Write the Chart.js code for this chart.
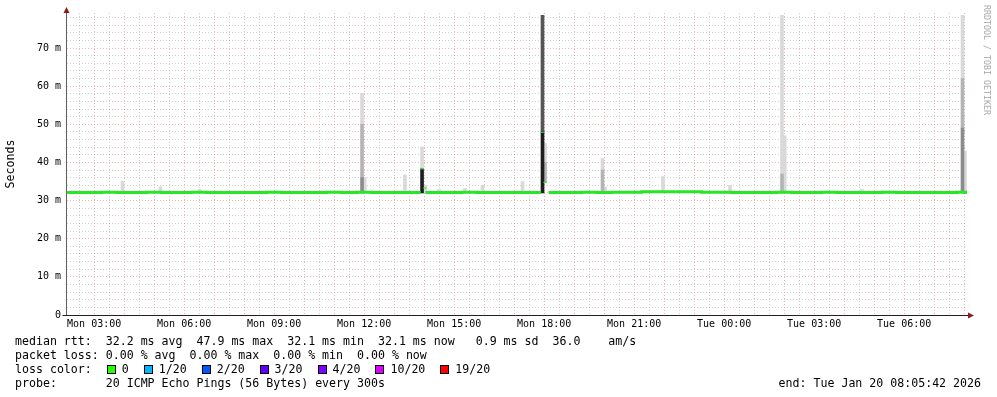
<!DOCTYPE html>
<html>
<head>
<meta charset="utf-8">
<script src="https://cdn.jsdelivr.net/npm/chart.js@4.4.1/dist/chart.umd.min.js"></script>
<style>
  html, body { margin: 0; padding: 0; background: #fff; }
  #wrap { position: relative; width: 997px; height: 397px; overflow: hidden; }
  #chart { position: absolute; left: 0; top: 0; }
  .txt { position: absolute; font-family: "DejaVu Sans Mono", monospace; font-size: 11.6px; line-height: 14px; white-space: pre; color: #000; }
  .sw { display: inline-block; box-sizing: border-box; width: 9px; height: 9px; border: 1px solid #000; vertical-align: -1px; margin: 0 6px 0 15px; }
  #mark { position: absolute; left: 992px; top: 5px; font-family: "DejaVu Sans Mono", monospace; font-size: 8.3px; line-height: 10px; color: #a8a8a8; white-space: pre; transform: rotate(90deg); transform-origin: left top; }
</style>
</head>
<body>
<div id="wrap">
  <canvas id="chart" width="997" height="397"></canvas>
  <div id="mark">RRDTOOL / TOBI OETIKER</div>
  <div class="txt" style="left:15px; top:334px;">median rtt:  32.2 ms avg  47.9 ms max  32.1 ms min  32.1 ms now   0.9 ms sd  36.0    am/s</div>
  <div class="txt" style="left:15px; top:348px;">packet loss: 0.00 % avg  0.00 % max  0.00 % min  0.00 % now</div>
  <div class="txt" id="losses" style="left:15px; top:362px;">loss color:</div>
  <div class="txt" style="left:15px; top:376px;">probe:       20 ICMP Echo Pings (56 Bytes) every 300s</div>
  <div class="txt" style="right:16px; top:376px;">end: Tue Jan 20 08:05:42 2026</div>
</div>
<script>
// time axis in hours since Mon 00:00
const xAxisStart = 2.095;   // Mon 02:05:42
const xAxisEnd = 32.095;    // Tue 08:05:42
const yAxisMax = 79.2;

const xTickHours = [3, 6, 9, 12, 15, 18, 21, 24, 27, 30];
const xTickLabels = ['Mon 03:00', 'Mon 06:00', 'Mon 09:00', 'Mon 12:00', 'Mon 15:00',
  'Mon 18:00', 'Mon 21:00', 'Tue 00:00', 'Tue 03:00', 'Tue 06:00'];
const yTickValues = [0, 10, 20, 30, 40, 50, 60, 70];
const yTickLabels = ['0', '10 m', '20 m', '30 m', '40 m', '50 m', '60 m', '70 m'];

// median rtt (ms), null = line broken by a spike step
const medianTimes = [2.1, 2.5, 3, 3.5, 4, 4.5, 5, 5.5, 6, 6.5, 7, 7.5, 8, 8.5, 9, 9.5, 10, 10.5,
  11, 11.5, 12, 12.5, 13, 13.5, 13.88, 13.93, 14.04, 14.5, 15, 15.5, 16, 16.5, 17, 17.5,
  17.9, 17.945, 18.15, 18.5, 19, 19.5, 20, 20.5, 21, 21.5, 22, 22.5, 23, 23.5, 24,
  24.5, 25, 25.5, 26, 26.5, 27, 27.5, 28, 28.5, 29, 29.5, 30, 30.5, 31, 31.5, 32, 32.1];
const medianRtt = [32.1, 32.1, 32.1, 32.2, 32.1, 32.1, 32.2, 32.1, 32.1, 32.2, 32.1, 32.1, 32.1, 32.1, 32.2, 32.1, 32.1, 32.1,
  32.2, 32.1, 32.2, 32.1, 32.1, 32.1, 32.1, null, 32.1, 32.1, 32.1, 32.2, 32.1, 32.1, 32.1, 32.1,
  32.1, null, 32.1, 32.1, 32.1, 32.2, 32.1, 32.2, 32.2, 32.3, 32.3, 32.3, 32.3, 32.2, 32.2,
  32.1, 32.1, 32.1, 32.2, 32.1, 32.1, 32.2, 32.1, 32.1, 32.1, 32.2, 32.1, 32.1, 32.1, 32.1, 32.2, 32.1];
// median during the spike steps: [hour, ms]
const medianSpikes = [[13.93, 38.3], [14.02, 33.3], [17.945, 47.9], [18.03, 34.8]];

// smoke: [hour, low ms, high ms]
const smokeLight = [
  [3.945, 32, 35.1], [5.21, 32, 33.6], [6.51, 32, 33.0], [11.93, 50, 58.1], [12.02, 32, 36],
  [13.36, 32, 36.7], [13.93, 38.3, 44.1], [14.03, 32, 34], [14.495, 32, 33], [15.36, 32, 33.2],
  [15.945, 32, 34], [17.28, 32, 35], [18.03, 40, 45], [19.945, 38, 41], [20.03, 32, 33.6],
  [21.96, 32, 36.3], [24.195, 32, 34], [25.928, 37, 78.6], [26.02, 32, 47], [28.595, 32, 33],
  [31.945, 62, 78.6], [32.03, 32, 43]
];
const smokeMid = [
  [11.93, 36, 50], [18.03, 34.8, 40], [19.945, 32, 38], [25.928, 32, 37], [31.945, 49, 62]
];
const smokeDark = [
  [11.93, 32, 36], [31.945, 32, 49]
];
const smokeDarker = [
  [17.945, 48, 78.6]
];
const smokeBlack = [
  [13.93, 32, 38.3], [17.945, 32, 48]
];

const lossLabels = ['0', '1/20', '2/20', '3/20', '4/20', '10/20', '19/20'];
const lossColors = ['#26ff00', '#00b8ff', '#0059ff', '#5e00ff', '#7e00ff', '#dd00ff', '#ff0000'];

const gridMajor = 'rgba(220,110,110,0.5)';
const gridMinor = 'rgba(140,140,140,0.42)';
const medianColor = '#26e626';

const losses = document.getElementById('losses');
lossLabels.forEach((lab, i) => {
  const box = document.createElement('span');
  box.className = 'sw';
  box.style.background = lossColors[i];
  losses.appendChild(box);
  losses.appendChild(document.createTextNode(lab));
});

const halfHours = [];
for (let h = 2.5; h <= 32; h += 0.5) halfHours.push(h);
const twoMs = [];
for (let v = 0; v <= 78; v += 2) twoMs.push(v);

const smokeSet = (rows, color, order) => ({
  type: 'bar',
  data: rows.map(r => ({ x: r[0], y: [r[1], r[2]] })),
  backgroundColor: color,
  borderWidth: 0,
  barThickness: 3,
  grouped: false,
  order: order
});

const axisPlugin = {
  id: 'rrdAxes',
  afterDraw(chart) {
    const { ctx, chartArea: a } = chart;
    const x0 = Math.round(a.left) - 0.5;
    const y0 = Math.round(a.bottom) + 0.5;
    ctx.save();
    ctx.lineWidth = 1;
    ctx.strokeStyle = '#606060';
    ctx.beginPath();
    ctx.moveTo(x0, y0);
    ctx.lineTo(x0, a.top - 3);
    ctx.stroke();
    ctx.strokeStyle = '#202020';
    ctx.beginPath();
    ctx.moveTo(x0 - 4, y0);
    ctx.lineTo(a.right + 2, y0);
    ctx.stroke();
    ctx.fillStyle = '#8b1c1c';
    ctx.beginPath();
    ctx.moveTo(x0 - 3, a.top);
    ctx.lineTo(x0 + 3, a.top);
    ctx.lineTo(x0, a.top - 6);
    ctx.closePath();
    ctx.fill();
    ctx.beginPath();
    ctx.moveTo(a.right + 1, y0 - 3);
    ctx.lineTo(a.right + 1, y0 + 3);
    ctx.lineTo(a.right + 7, y0);
    ctx.closePath();
    ctx.fill();
    ctx.restore();
  }
};

const ctx = document.getElementById('chart').getContext('2d');
new Chart(ctx, {
  type: 'line',
  data: {
    datasets: [
      {
        type: 'line',
        data: medianTimes.map((t, i) => ({ x: t, y: medianRtt[i] })),
        borderColor: medianColor,
        borderWidth: 3,
        pointRadius: 0,
        stepped: 'middle',
        spanGaps: false,
        order: 0
      },
      {
        type: 'bar',
        data: medianSpikes.map(r => ({ x: r[0], y: [r[1] - 0.04, r[1] + 0.04] })),
        backgroundColor: medianColor,
        borderWidth: 0,
        barThickness: 3,
        grouped: false,
        order: -1
      },
      smokeSet(smokeBlack, '#1e1e1e', 1),
      smokeSet(smokeDarker, '#555555', 2),
      smokeSet(smokeDark, '#8c8c8c', 3),
      smokeSet(smokeMid, '#b4b4b4', 4),
      smokeSet(smokeLight, '#d9d9d9', 5)
    ]
  },
  options: {
    responsive: false,
    animation: false,
    layout: { padding: { top: 13, right: 30, left: 0, bottom: 0 } },
    plugins: { legend: { display: false }, tooltip: { enabled: false } },
    scales: {
      x: {
        type: 'linear',
        min: xAxisStart,
        max: xAxisEnd,
        offset: false,
        afterBuildTicks: s => { s.ticks = halfHours.map(v => ({ value: v })); },
        afterFit: s => { s.height = 82; },
        grid: {
          offset: false,
          drawTicks: false,
          lineWidth: 1,
          color: c => (c.tick && c.tick.value % 1 === 0) ? gridMajor : gridMinor
        },
        border: { display: false, dash: [1, 2] },
        ticks: {
          autoSkip: false,
          maxRotation: 0,
          minRotation: 0,
          padding: 3,
          color: '#000',
          font: { family: 'DejaVu Sans Mono', size: 10 },
          callback: v => {
            const i = xTickHours.indexOf(v);
            return i < 0 ? '' : xTickLabels[i];
          }
        }
      },
      y: {
        min: 0,
        max: yAxisMax,
        afterBuildTicks: s => { s.ticks = twoMs.map(v => ({ value: v })); },
        afterFit: s => { s.width = 67; },
        grid: {
          drawTicks: false,
          lineWidth: 1,
          color: c => (c.tick && c.tick.value % 10 === 0) ? gridMajor : gridMinor
        },
        border: { display: false, dash: [1, 2] },
        title: {
          display: true,
          text: 'Seconds',
          color: '#000',
          font: { family: 'DejaVu Sans Mono', size: 11.6 },
          padding: { top: 4, bottom: 0 }
        },
        ticks: {
          autoSkip: false,
          padding: 6,
          color: '#000',
          font: { family: 'DejaVu Sans Mono', size: 10 },
          callback: v => {
            const i = yTickValues.indexOf(v);
            return i < 0 ? '' : yTickLabels[i];
          }
        }
      }
    }
  },
  plugins: [axisPlugin]
});
</script>
</body>
</html>
